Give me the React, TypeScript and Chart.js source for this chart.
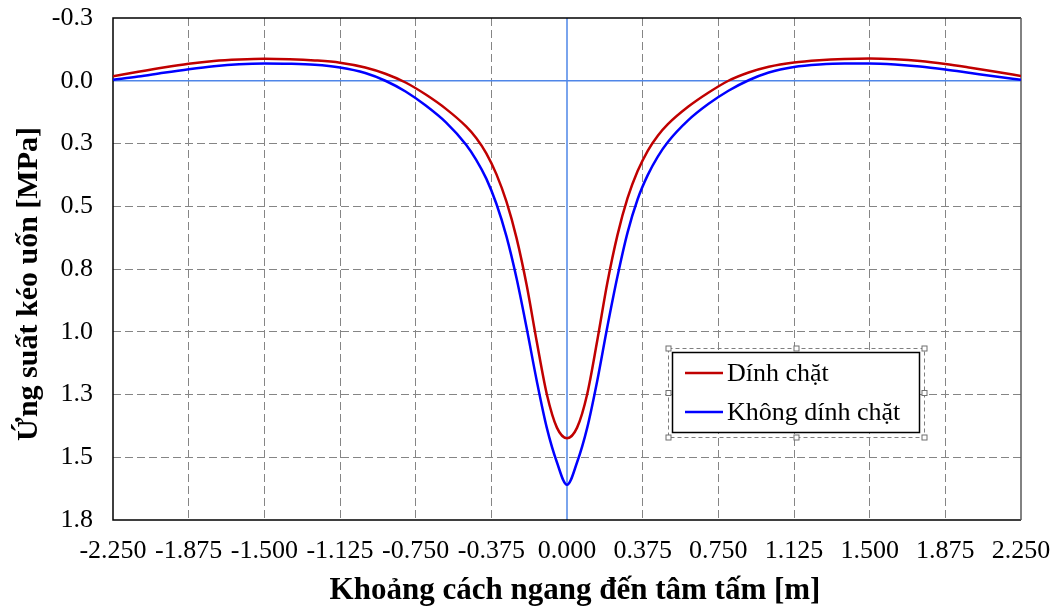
import React, { useEffect, useRef } from 'react';
import { Chart, registerables } from 'chart.js';

Chart.register(...registerables);

// Horizontal distance to slab centre [m]
const xPositions = [
  -2.25, -2.125, -2.0, -1.875, -1.75, -1.625, -1.5, -1.375, -1.25, -1.125,
  -1.0, -0.9, -0.8, -0.7, -0.6, -0.5, -0.45, -0.4, -0.35, -0.3,
  -0.25, -0.2, -0.15, -0.1, -0.05, 0.0, 0.05, 0.1, 0.15, 0.2,
  0.25, 0.3, 0.35, 0.4, 0.45, 0.5, 0.6, 0.7, 0.8, 0.9,
  1.0, 1.125, 1.25, 1.375, 1.5, 1.625, 1.75, 1.875, 2.0, 2.125, 2.25,
];

// "Dính chặt" (bonded) bending tensile stress [MPa]
const bondedStress = [
  -0.018, -0.036, -0.053, -0.068, -0.079, -0.085, -0.088, -0.086, -0.081, -0.072,
  -0.053, -0.028, 0.007, 0.055, 0.112, 0.182, 0.228, 0.289, 0.372, 0.482,
  0.627, 0.814, 1.039, 1.249, 1.382, 1.424, 1.382, 1.249, 1.035, 0.805,
  0.615, 0.468, 0.36, 0.279, 0.219, 0.173, 0.104, 0.048, 0.0, -0.033,
  -0.056, -0.073, -0.082, -0.087, -0.089, -0.086, -0.079, -0.067, -0.052, -0.036, -0.019,
];

// "Không dính chặt" (unbonded) bending tensile stress [MPa]
const unbondedStress = [
  -0.004, -0.017, -0.032, -0.046, -0.058, -0.066, -0.069, -0.068, -0.064, -0.053,
  -0.031, 0.0, 0.043, 0.099, 0.166, 0.255, 0.315, 0.39, 0.49, 0.62,
  0.787, 0.985, 1.195, 1.383, 1.52, 1.61, 1.52, 1.383, 1.195, 0.98,
  0.78, 0.605, 0.472, 0.376, 0.302, 0.244, 0.158, 0.093, 0.04, -0.002,
  -0.033, -0.055, -0.065, -0.069, -0.069, -0.065, -0.057, -0.045, -0.031, -0.017, -0.004,
];

const seriesLabels = ['Dính chặt', 'Không dính chặt'];
const seriesColors = ['#C00000', '#0000FF'];

const xTickMin = -2.25;
const xTickMax = 2.25;
const xTickStep = 0.375;
const yTickMin = -0.25;
const yTickMax = 1.75;
const yTickStep = 0.25;

const xTitle = 'Khoảng cách ngang đến tâm tấm [m]';
const yTitle = 'Ứng suất kéo uốn [MPa]';

const FONT = "'Liberation Serif', 'Times New Roman', serif";
const GRID_GREY = '#858585';
const AXIS_BLUE = '#4F86E8';

const formatY = (v: number) => {
  const q = Math.round(v * 4) / 4;
  const r = Math.round(Math.abs(q) * 10) / 10;
  return (q < 0 ? '-' : '') + r.toFixed(1);
};

const isEdgeOrZero = (v: number, a: number, b: number) =>
  Math.abs(v - a) < 1e-9 || Math.abs(v - b) < 1e-9 || Math.abs(v) < 1e-9;

const framePlugin = {
  id: 'plotFrame',
  beforeDatasetsDraw(chart: any) {
    const { ctx, chartArea, scales } = chart;
    const { left, right, top, bottom } = chartArea;
    ctx.save();
    // zero axes (blue)
    ctx.setLineDash([]);
    ctx.lineWidth = 1.5;
    ctx.strokeStyle = AXIS_BLUE;
    const x0 = scales.x.getPixelForValue(0);
    const y0 = scales.y.getPixelForValue(0);
    ctx.beginPath();
    ctx.moveTo(x0, top);
    ctx.lineTo(x0, bottom);
    ctx.moveTo(left, y0);
    ctx.lineTo(right, y0);
    ctx.stroke();
    // frame
    ctx.lineWidth = 1.5;
    ctx.strokeStyle = '#000';
    ctx.beginPath();
    ctx.moveTo(right, top);
    ctx.lineTo(left, top);
    ctx.lineTo(left, bottom);
    ctx.lineTo(right, bottom);
    ctx.stroke();
    ctx.strokeStyle = '#595959';
    ctx.beginPath();
    ctx.moveTo(right, top);
    ctx.lineTo(right, bottom);
    ctx.stroke();
    ctx.restore();
  },
};

const axisTitlePlugin = {
  id: 'axisTitles',
  afterDraw(chart: any) {
    const { ctx } = chart;
    ctx.save();
    ctx.fillStyle = '#000';
    ctx.textAlign = 'center';
    ctx.textBaseline = 'middle';
    ctx.font = `bold 31px ${FONT}`;
    ctx.fillText(xTitle, 575, 591);
    ctx.translate(29, 284);
    ctx.rotate(-Math.PI / 2);
    ctx.font = `bold 30px ${FONT}`;
    ctx.fillText(yTitle, 0, 0);
    ctx.restore();
  },
};

const legendPlugin = {
  id: 'boxLegend',
  afterDatasetsDraw(chart: any) {
    const { ctx } = chart;
    const bx = 672.5;
    const by = 352.5;
    const bw = 247;
    const bh = 80;
    ctx.save();
    // selection frame (dashed) with handles
    const fx = 668.5, fy = 348.5, fw = 256, fh = 89;
    ctx.strokeStyle = '#7f7f7f';
    ctx.lineWidth = 1;
    ctx.setLineDash([4, 3]);
    ctx.strokeRect(fx, fy, fw, fh);
    ctx.setLineDash([]);
    // legend box
    ctx.fillStyle = '#fff';
    ctx.fillRect(bx, by, bw, bh);
    ctx.strokeStyle = '#000';
    ctx.lineWidth = 1.5;
    ctx.strokeRect(bx, by, bw, bh);
    // handles
    const hs = 5;
    const hx = [fx, fx + fw / 2, fx + fw];
    const hy = [fy, fy + fh / 2, fy + fh];
    ctx.lineWidth = 1;
    ctx.strokeStyle = '#6f6f6f';
    hx.forEach((x, i) =>
      hy.forEach((y, j) => {
        if (i === 1 && j === 1) return;
        ctx.fillStyle = '#fff';
        ctx.fillRect(x - hs / 2, y - hs / 2, hs, hs);
        ctx.strokeRect(x - hs / 2, y - hs / 2, hs, hs);
      })
    );
    // items
    ctx.font = `26px ${FONT}`;
    ctx.textBaseline = 'middle';
    ctx.textAlign = 'left';
    chart.data.datasets.forEach((ds: any, i: number) => {
      const y = 373 + i * 39;
      ctx.strokeStyle = ds.borderColor;
      ctx.lineWidth = 2.5;
      ctx.beginPath();
      ctx.moveTo(685, y);
      ctx.lineTo(723, y);
      ctx.stroke();
      ctx.fillStyle = '#000';
      ctx.fillText(ds.label, 727, y + 1);
    });
    ctx.restore();
  },
};

export default function App() {
  const canvasRef = useRef<HTMLCanvasElement | null>(null);

  useEffect(() => {
    const canvas = canvasRef.current;
    if (!canvas) return;
    const mk = (vals: number[]) => xPositions.map((x, i) => ({ x, y: vals[i] }));
    const gridColor = (a: number, b: number) => (c: any) => {
      const v = c.tick ? c.tick.value : NaN;
      return isEdgeOrZero(v, a, b) ? 'rgba(0,0,0,0)' : GRID_GREY;
    };
    const chart = new Chart(canvas, {
      type: 'line',
      data: {
        datasets: [
          {
            label: seriesLabels[0],
            data: mk(bondedStress),
            borderColor: seriesColors[0],
            backgroundColor: seriesColors[0],
            borderWidth: 2.5,
            pointRadius: 0,
            cubicInterpolationMode: 'monotone',
            fill: false,
          },
          {
            label: seriesLabels[1],
            data: mk(unbondedStress),
            borderColor: seriesColors[1],
            backgroundColor: seriesColors[1],
            borderWidth: 2.5,
            pointRadius: 0,
            cubicInterpolationMode: 'monotone',
            fill: false,
          },
        ],
      },
      options: {
        responsive: false,
        animation: false,
        layout: { padding: { top: 18, right: 36, left: 0, bottom: 0 } },
        plugins: {
          legend: { display: false },
          tooltip: { enabled: false },
        },
        scales: {
          x: {
            type: 'linear',
            min: xTickMin,
            max: xTickMax,
            afterFit: (s: any) => {
              s.height = 91;
              s.paddingLeft = 0;
              s.paddingRight = 0;
              s.paddingTop = 0;
              s.paddingBottom = 0;
            },
            ticks: {
              stepSize: xTickStep,
              autoSkip: false,
              maxRotation: 0,
              minRotation: 0,
              padding: 16,
              color: '#000',
              font: { family: FONT, size: 26 },
              callback: (v: any) => Number(v).toFixed(3),
            },
            grid: {
              drawTicks: false,
              lineWidth: 1,
              color: gridColor(xTickMin, xTickMax),
            },
            border: { display: false, dash: [8, 4] },
            title: { display: false, text: xTitle },
          },
          y: {
            type: 'linear',
            reverse: true,
            min: yTickMin,
            max: yTickMax,
            afterFit: (s: any) => {
              s.width = 113;
              s.paddingLeft = 0;
              s.paddingRight = 0;
              s.paddingTop = 0;
              s.paddingBottom = 0;
            },
            ticks: {
              stepSize: yTickStep,
              autoSkip: false,
              padding: 20,
              color: '#000',
              font: { family: FONT, size: 26 },
              callback: (v: any) => formatY(Number(v)),
            },
            grid: {
              drawTicks: false,
              lineWidth: 1,
              color: gridColor(yTickMin, yTickMax),
            },
            border: { display: false, dash: [8, 4] },
            title: { display: false, text: yTitle },
          },
        },
      },
      plugins: [framePlugin, legendPlugin, axisTitlePlugin],
    } as any);
    return () => chart.destroy();
  }, []);

  return (
    <div style={{ position: 'absolute', left: 0, top: 0, width: 1057, height: 611, background: '#fff' }}>
      <canvas ref={canvasRef} width={1057} height={611} style={{ display: 'block' }} />
    </div>
  );
}
